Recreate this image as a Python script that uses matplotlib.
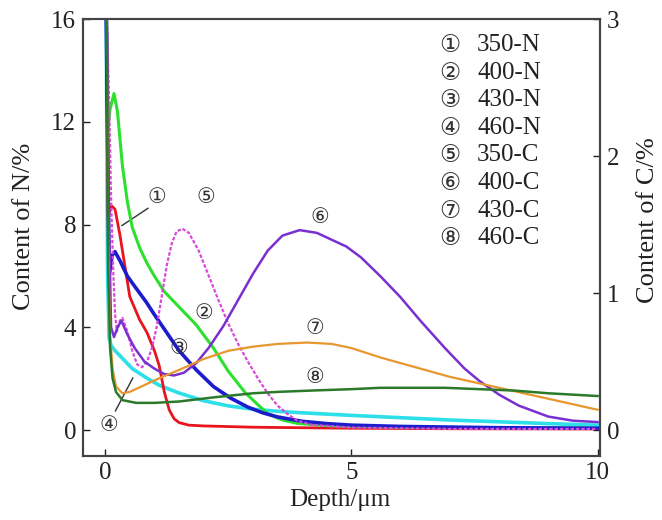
import matplotlib
matplotlib.use("Agg")
import matplotlib.pyplot as plt

plt.rcParams['font.family'] = ['Liberation Serif', 'DejaVu Sans']
plt.rcParams['mathtext.fontset'] = 'stix'

# ---------------- data ----------------
# N curves (left axis, %)
x_350N = [0.02, 0.06, 0.12, 0.2, 0.3, 0.5, 0.7, 0.85, 1.0, 1.1, 1.2, 1.3, 1.4, 1.5, 1.7, 2.0, 3.0, 5.0, 7.0, 10.0]
y_350N = [16.5, 8.3, 8.75, 8.6, 7.6, 5.2, 4.3, 3.8, 3.1, 2.5, 1.5, 0.8, 0.45, 0.3, 0.2, 0.17, 0.12, 0.08, 0.06, 0.05]

x_400N = [0.02, 0.06, 0.1, 0.18, 0.25, 0.35, 0.45, 0.55, 0.7, 0.85, 1.0, 1.2, 1.5, 1.85, 2.2, 2.5, 2.85, 3.1, 3.3, 3.6, 3.9, 4.5, 6.0, 8.0, 10.0]
y_400N = [17.0, 11.8, 12.5, 13.1, 12.4, 10.3, 8.9, 7.9, 7.1, 6.5, 6.0, 5.4, 4.8, 4.1, 3.2, 2.3, 1.45, 1.0, 0.65, 0.4, 0.27, 0.18, 0.12, 0.1, 0.08]

x_430N = [0.02, 0.08, 0.14, 0.2, 0.3, 0.45, 0.6, 0.83, 1.0, 1.25, 1.5, 1.85, 2.2, 2.55, 2.9, 3.2, 3.5, 4.0, 4.5, 5.0, 6.0, 8.0, 10.0]
y_430N = [16.5, 6.0, 6.8, 6.95, 6.6, 6.0, 5.6, 5.0, 4.5, 3.8, 3.1, 2.35, 1.7, 1.25, 0.9, 0.68, 0.52, 0.35, 0.26, 0.2, 0.15, 0.1, 0.08]

x_460N = [0.02, 0.05, 0.08, 0.12, 0.2, 0.35, 0.55, 0.83, 1.1, 1.5, 2.0, 2.5, 3.0, 3.5, 4.0, 5.0, 6.0, 7.0, 8.0, 9.0, 10.0]
y_460N = [16.5, 6.0, 3.6, 3.3, 3.1, 2.8, 2.4, 2.05, 1.75, 1.45, 1.15, 0.95, 0.82, 0.74, 0.68, 0.58, 0.49, 0.4, 0.33, 0.26, 0.2]

# C curves (right axis, %)
x_350C = [0.03, 0.08, 0.12, 0.16, 0.2, 0.24, 0.3, 0.35, 0.45, 0.55, 0.65, 0.75, 0.85, 0.95, 1.05, 1.15, 1.25, 1.35, 1.45, 1.57, 1.7, 1.9, 2.1, 2.3, 2.5, 2.7, 2.9, 3.1, 3.3, 3.5, 3.7, 3.9, 4.2, 5.0, 7.0, 10.0]
y_350C = [3.1, 2.4, 1.7, 1.2, 0.85, 0.72, 0.8, 0.82, 0.72, 0.58, 0.48, 0.46, 0.5, 0.6, 0.76, 0.98, 1.2, 1.36, 1.45, 1.47, 1.44, 1.31, 1.13, 0.95, 0.78, 0.63, 0.5, 0.38, 0.27, 0.18, 0.12, 0.07, 0.04, 0.02, 0.01, 0.01]

x_400C = [0.03, 0.08, 0.12, 0.18, 0.25, 0.33, 0.45, 0.6, 0.8, 1.0, 1.2, 1.4, 1.6, 1.85, 2.1, 2.4, 2.7, 3.0, 3.3, 3.6, 3.95, 4.3, 4.6, 4.9, 5.2, 5.6, 6.0, 6.4, 6.9, 7.3, 7.6, 8.0, 8.4, 9.0, 9.5, 10.0]
y_400C = [3.1, 1.5, 0.75, 0.68, 0.75, 0.8, 0.7, 0.6, 0.5, 0.45, 0.41, 0.4, 0.42, 0.49, 0.6, 0.76, 0.95, 1.14, 1.31, 1.42, 1.46, 1.44, 1.39, 1.34, 1.26, 1.12, 0.97, 0.8, 0.6, 0.45, 0.36, 0.26, 0.18, 0.1, 0.07, 0.06]

x_430C = [0.03, 0.06, 0.1, 0.15, 0.22, 0.35, 0.5, 0.8, 1.1, 1.5, 2.0, 2.5, 3.0, 3.5, 4.1, 4.6, 5.0, 5.6, 6.2, 7.0, 8.0, 9.0, 10.0]
y_430C = [3.1, 1.4, 0.7, 0.45, 0.32, 0.27, 0.28, 0.33, 0.38, 0.44, 0.52, 0.58, 0.61, 0.63, 0.64, 0.63, 0.6, 0.53, 0.47, 0.39, 0.31, 0.23, 0.15]

x_460C = [0.03, 0.06, 0.1, 0.15, 0.22, 0.35, 0.63, 1.0, 1.5, 2.2, 3.0, 3.5, 4.2, 5.0, 5.6, 6.3, 6.9, 7.6, 8.3, 9.0, 10.0]
y_460C = [3.1, 1.2, 0.6, 0.38, 0.28, 0.22, 0.2, 0.2, 0.21, 0.24, 0.27, 0.28, 0.29, 0.3, 0.31, 0.31, 0.31, 0.3, 0.29, 0.27, 0.25]

legend_marks = ['①', '②', '③', '④', '⑤', '⑥', '⑦', '⑧']
legend_names = ['350-N', '400-N', '430-N', '460-N', '350-C', '400-C', '430-C', '460-C']

left_ticks = [0, 4, 8, 12, 16]
right_ticks = [0, 1, 2, 3]
x_ticks = [0, 5, 10]

# ---------------- figure ----------------
fig = plt.figure(figsize=(6.62, 5.20), dpi=100)
ax = fig.add_axes([83/662, 1-456/520, 517/662, 437/520])
ax2 = ax.twinx()

ax.plot(x_350N, y_350N, color='#e8141e', lw=2.0, zorder=5)
ax.plot(x_400N, y_400N, color='#2ee02e', lw=2.2, zorder=5)
ax.plot(x_430N, y_430N, color='#1c1ccc', lw=2.6, zorder=5)
ax.plot(x_460N, y_460N, color='#2ddfe8', lw=2.6, zorder=4)

ax2.plot(x_350C, y_350C, color='#d84ad8', lw=1.6, ls=(0, (1.6, 0.8)))
ax2.plot(x_400C, y_400C, color='#7a2fd0', lw=1.8)
ax2.plot(x_430C, y_430C, color='#e8962e', lw=1.6)
ax2.plot(x_460C, y_460C, color='#2a7a2a', lw=1.8)

ax.set_xlim(-0.45, 10.05)
ax.set_ylim(-1.0, 16.0)
ax2.set_ylim(-1.0 * 3 / 16, 3.0)

ax.set_xticks(x_ticks)
ax.set_yticks(left_ticks)
ax2.set_yticks(right_ticks)

for a in (ax, ax2):
    a.tick_params(direction='in', length=5, width=1.0, labelsize=18, colors='#222222')
    for s in a.spines.values():
        s.set_color('#444444')
        s.set_linewidth(1.5)
ax.tick_params(axis='x', pad=4)
ax.tick_params(axis='y', pad=5)
ax2.tick_params(axis='y', pad=5)

# axis labels
fig.text(340/662, 1-500/520, 'Depth/μm', fontsize=18, ha='center', va='center', color='#222222')
fig.text(24/662, 1-226/520, 'Content of N/%', fontsize=19, rotation=90, ha='center', va='center', color='#222222')
fig.text(648/662, 1-220/520, 'Content of C/%', fontsize=19, rotation=90, ha='center', va='center', color='#222222')

# legend as text block
for i, (m, n) in enumerate(zip(legend_marks, legend_names)):
    yy = 1 - (45 + i * 27.6) / 520
    fig.text(450/662, yy, m, fontsize=17, ha='center', va='center',
             family=['DejaVu Sans'], color='#333333')
    fig.text(477/662, yy, n, fontsize=18, ha='left', va='center', color='#222222')

# curve labels
lab_kw = dict(fontsize=15, ha='center', va='center', family=['DejaVu Sans'], color='#333333', zorder=10)
ax.text(1.04, 9.07, '①', **lab_kw)
ax.annotate('', xy=(0.29, 7.9), xytext=(0.92, 8.7),
            arrowprops=dict(arrowstyle='-', color='#333333', lw=1.0))
ax.text(2.0, 4.55, '②', **lab_kw)
ax.text(1.5, 3.2, '③', **lab_kw)
ax.text(0.08, 0.2, '④', **lab_kw)
ax.annotate('', xy=(0.59, 2.14), xytext=(0.18, 0.65),
            arrowprops=dict(arrowstyle='-', color='#333333', lw=1.0))
ax.text(2.05, 9.07, '⑤', **lab_kw)
ax.text(4.36, 8.29, '⑥', **lab_kw)
ax.text(4.26, 3.97, '⑦', **lab_kw)
ax.text(4.26, 2.06, '⑧', **lab_kw)

fig.savefig('out.png', dpi=100)
